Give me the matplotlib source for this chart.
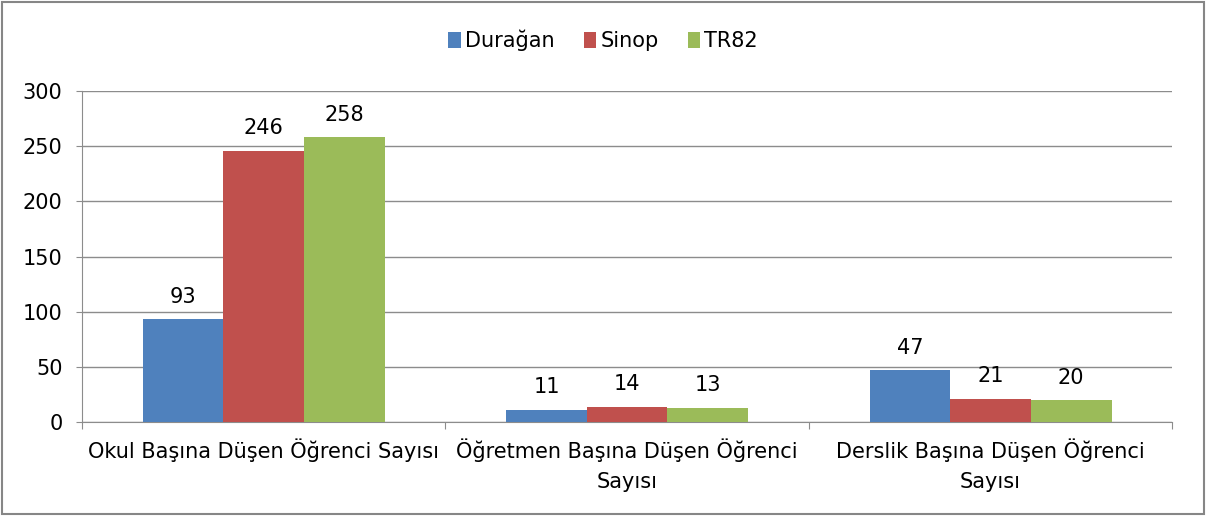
import matplotlib.pyplot as plt
import numpy as np
from matplotlib.patches import Rectangle

categories = [
    "Okul Başına Düşen Öğrenci Sayısı",
    "Öğretmen Başına Düşen Öğrenci\nSayısı",
    "Derslik Başına Düşen Öğrenci\nSayısı",
]
series_names = ["Durağan", "Sinop", "TR82"]
duragan = [93, 11, 47]
sinop = [246, 14, 21]
tr82 = [258, 13, 20]
colors = ["#4F81BD", "#C0504D", "#9BBB59"]

plt.rcParams["font.family"] = ["DejaVu Sans"]
fs = 15

fig = plt.figure(figsize=(12.06, 5.16), dpi=100)
ax = fig.add_axes([0.068, 0.182, 0.904, 0.6416])

x = np.arange(len(categories))
width = 0.222
for i, (vals, name, c) in enumerate(zip([duragan, sinop, tr82], series_names, colors)):
    bars = ax.bar(x + (i - 1) * width, vals, width, color=c, label=name, zorder=3)
    for b, v in zip(bars, vals):
        ax.annotate(str(v), (b.get_x() + b.get_width() / 2, v), xytext=(0, 9),
                    textcoords="offset points", ha="center", va="bottom", fontsize=fs)

ax.set_xlim(-0.5, 2.5)
ax.set_ylim(0, 300)
ax.set_yticks(range(0, 301, 50))
ax.yaxis.grid(True, color="#8c8c8c", linewidth=1, zorder=0)
ax.tick_params(axis="y", labelsize=fs, length=4, color="#8c8c8c", pad=10)
ax.set_xticks(np.arange(-0.5, 3, 1))
ax.set_xticklabels([])
ax.set_xticks(x, minor=True)
ax.set_xticklabels(categories, minor=True, fontsize=fs, linespacing=1.6)
ax.tick_params(axis="x", which="major", length=5, color="#8c8c8c")
ax.tick_params(axis="x", which="minor", length=0, pad=12)
for s in ["top", "right"]:
    ax.spines[s].set_visible(False)
for s in ["left", "bottom"]:
    ax.spines[s].set_color("#8c8c8c")

fig.legend(loc="center", bbox_to_anchor=(0.5, 0.922), ncol=3, frameon=False,
           fontsize=fs, handlelength=0.6, handleheight=0.8, handletextpad=0.2,
           columnspacing=1.4)

fig.patches.append(Rectangle((0.002, 0.004), 0.996, 0.992, transform=fig.transFigure,
                             fill=False, edgecolor="#868686", linewidth=1.5))

fig.savefig("out.png", dpi=100)
